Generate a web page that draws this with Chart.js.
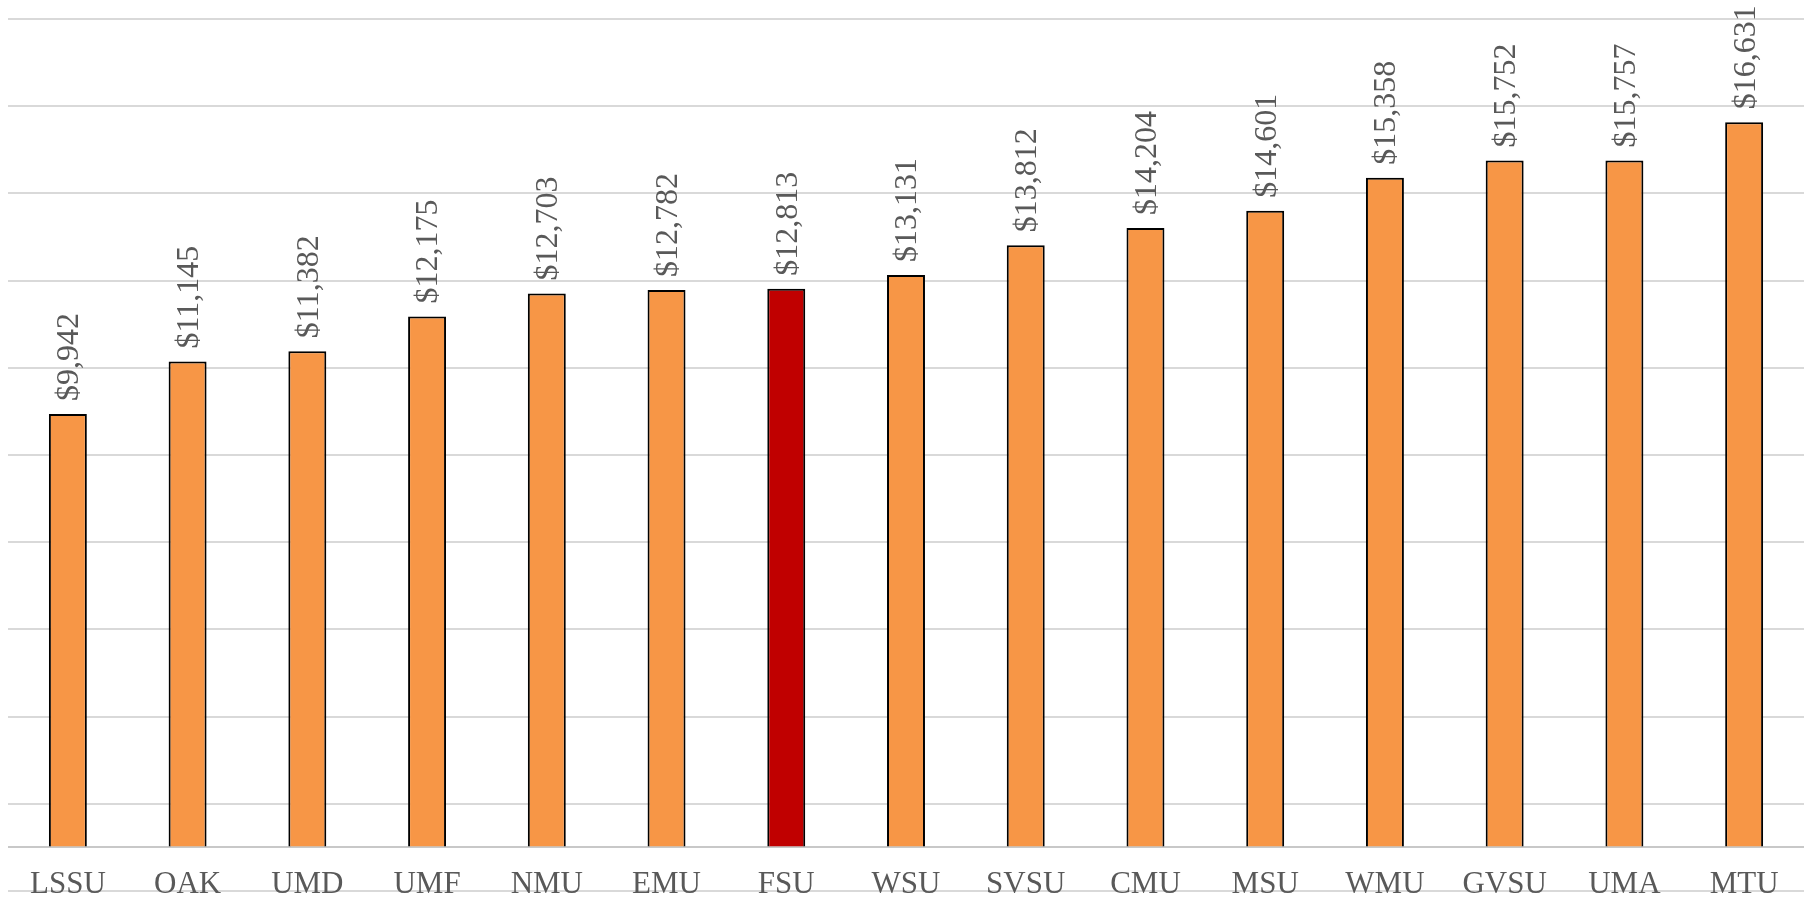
<!DOCTYPE html>
<html>
<head>
<meta charset="utf-8">
<script src="https://cdn.jsdelivr.net/npm/chart.js@4"></script>
<style>
  html, body { margin: 0; padding: 0; background: #fff; }
  #wrap { width: 1807px; height: 900px; position: relative; }
</style>
</head>
<body>
<div id="wrap"><canvas id="chart"></canvas></div>
<script>
// schools and cost values
const schools = ['LSSU', 'OAK', 'UMD', 'UMF', 'NMU', 'EMU', 'FSU', 'WSU', 'SVSU', 'CMU', 'MSU', 'WMU', 'GVSU', 'UMA', 'MTU'];
const costs = [9942, 11145, 11382, 12175, 12703, 12782, 12813, 13131, 13812, 14204, 14601, 15358, 15752, 15757, 16631];
const highlight = 'FSU';
// gridline values (axis line at 0)
const yTicks = [-1000, 0, 1000, 3000, 5000, 7000, 9000, 11000, 13000, 15000, 17000, 19000];

const fontFamily = '"Liberation Serif", "DejaVu Serif", serif';
const textColor = '#595959';

const barColors = schools.map(s => s === highlight ? '#C00000' : '#F79646');

// rotated value labels above each bar
const valueLabels = {
    id: 'valueLabels',
    afterDatasetsDraw(chart) {
        const ctx = chart.ctx;
        const meta = chart.getDatasetMeta(0);
        ctx.save();
        ctx.font = '32px ' + fontFamily;
        ctx.fillStyle = textColor;
        ctx.textAlign = 'left';
        ctx.textBaseline = 'middle';
        meta.data.forEach((bar, i) => {
            ctx.save();
            ctx.translate(bar.x + 2, bar.y - 13);
            ctx.rotate(-Math.PI / 2);
            ctx.fillText('$' + costs[i].toLocaleString('en-US'), 0, 0);
            ctx.restore();
        });
        ctx.restore();
    }
};

new Chart(document.getElementById('chart'), {
    type: 'bar',
    data: {
        labels: schools,
        datasets: [{
            data: costs,
            backgroundColor: barColors,
            borderColor: '#000',
            borderWidth: 2,
            barPercentage: 0.317,
            categoryPercentage: 1
        }]
    },
    options: {
        responsive: true,
        maintainAspectRatio: false,
        animation: false,
        events: [],
        layout: { padding: { left: 8, right: 3, top: 19, bottom: 9 } },
        plugins: {
            legend: { display: false },
            tooltip: { enabled: false }
        },
        scales: {
            x: {
                position: { y: 0 },
                grid: { display: false, drawTicks: false },
                border: { display: false },
                ticks: {
                    color: textColor,
                    font: { family: fontFamily, size: 31 },
                    padding: 19,
                    maxRotation: 0
                }
            },
            y: {
                min: -1000,
                max: 19000,
                afterBuildTicks: scale => {
                    scale.ticks = yTicks.map(v => ({ value: v }));
                },
                grid: {
                    drawTicks: false,
                    lineWidth: 2,
                    color: c => c.tick && c.tick.value === 0 ? '#c8c8c8' : '#d9d9d9'
                },
                border: { display: false },
                ticks: { display: false }
            }
        }
    },
    plugins: [valueLabels]
});
</script>
</body>
</html>
